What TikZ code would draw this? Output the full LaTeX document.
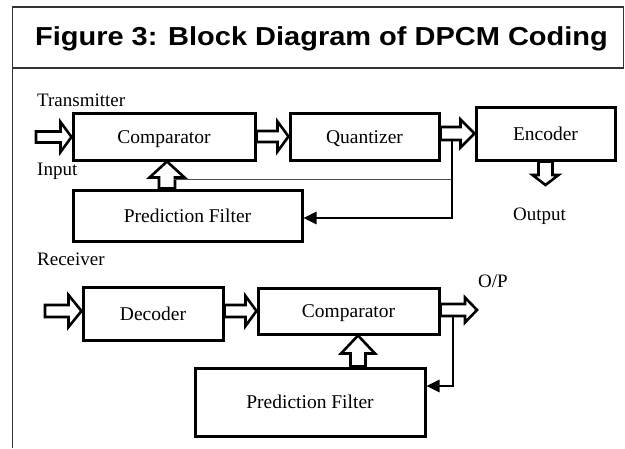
\documentclass[tikz,border=0pt]{standalone}
\usepackage{fontspec}
\setmainfont{Liberation Serif}
\newfontfamily\headfont{Liberation Sans}
\usetikzlibrary{calc,arrows.meta}

% hollow block arrow: tail, tip, shaft half-width, head half-width, head length
\newcommand\hollowarrow[5]{%
  \path ($(#2)!#5!(#1)$) coordinate (ha-base);
  \draw[barrow] ($(#1)!#3!90:(#2)$) -- ($(ha-base)!#3!90:(#2)$)
    -- ($(ha-base)!#4!90:(#2)$) -- (#2) -- ($(ha-base)!#4!-90:(#2)$)
    -- ($(ha-base)!#3!-90:(#2)$) -- ($(#1)!#3!-90:(#2)$) -- cycle;
}

\begin{document}
\begin{tikzpicture}[x=1pt,y=-1pt,
  blk/.style={draw, line width=3pt, inner sep=0pt, text height=13pt, text depth=0pt,
    font=\fontsize{19.5}{22}\selectfont},
  lbl/.style={inner sep=0pt, anchor=base west,
    font=\fontsize{19}{22}\selectfont},
  barrow/.style={draw, line width=2.6pt, fill=white, line join=miter},
  fb/.style={draw, line width=2.6pt, -{Triangle[length=13pt,width=12pt]}},
  thinline/.style={draw, line width=0.9pt, black!70},
  frame/.style={draw, line width=1.6pt, black!80},
]
\useasboundingbox (0,0) rectangle (625,448);

% frame and title bar
\draw[frame] (12.5,448) -- (12.5,7) -- (623.5,7) -- (623.5,68) -- (12.5,68);
\node[inner sep=0pt, anchor=base, font=\headfont\bfseries\fontsize{26}{30}\selectfont]
  (title) at (321.5,45) {\scalebox{1.115}[1]{Figure 3: Block Diagram of DPCM Coding}};

% ---------- transmitter ----------
\node[lbl] (ttx) at (37,106) {Transmitter};
\node[lbl] (tinl) at (37,175) {Input};
\node[lbl] (toutl) at (513,220) {Output};

\node[blk, minimum width=182pt, minimum height=47pt] (tcmp) at (164,136.5) {Comparator};
\node[blk, minimum width=149pt, minimum height=47pt] (tq) at (364.5,136.5) {Quantizer};
\node[blk, minimum width=139pt, minimum height=53pt] (tenc) at (545.5,133.5) {Encoder};
\node[blk, minimum width=229pt, minimum height=51pt] (tpf) at (187.5,215.5) {Prediction Filter};

\coordinate (tin) at (36,137);
\coordinate (tupx) at (167,0);
\coordinate (tsplit) at (452,140);
\coordinate (tthin) at (174,179);
\coordinate (tout) at (545.5,185);

\hollowarrow{tin}{tin -| tcmp.west}{5.5pt}{15pt}{11pt}
\hollowarrow{tcmp.east}{tq.west}{5.5pt}{15pt}{11pt}
\hollowarrow{tq.east |- tenc.west}{tenc.west}{6.5pt}{14pt}{14pt}
\hollowarrow{tupx |- tpf.north}{tupx |- tcmp.south}{8pt}{17.5pt}{16pt}
\hollowarrow{tenc.south}{tout}{7pt}{13pt}{10pt}

\draw[thinline] (tthin) -- (tsplit |- tthin);
\draw[fb] (tsplit) |- ($(tpf.east)+(0,2.5)$);

% ---------- receiver ----------
\node[lbl] (rrx) at (37,265) {Receiver};
\node[lbl] (ropl) at (478,287) {O/P};

\node[blk, minimum width=140pt, minimum height=53pt] (rdec) at (153,313.5) {Decoder};
\node[blk, minimum width=181pt, minimum height=46pt] (rcmp) at (348.5,311) {Comparator};
\node[blk, minimum width=230pt, minimum height=68pt] (rpf) at (310,402) {Prediction Filter};

\coordinate (rin) at (45,311);
\coordinate (rop) at (477,310);
\coordinate (rupx) at (358,0);
\coordinate (rsplit) at (453,316);

\hollowarrow{rin}{rin -| rdec.west}{6pt}{16pt}{13pt}
\hollowarrow{rdec.east |- rcmp.west}{rcmp.west}{6pt}{15pt}{11pt}
\hollowarrow{rcmp.east |- rop}{rop}{6pt}{12.5pt}{12pt}
\hollowarrow{rupx |- rpf.north}{rupx |- rcmp.south}{7.5pt}{17pt}{18pt}

\draw[fb] (rsplit) |- ($(rpf.east)+(0,-16)$);
\end{tikzpicture}
\end{document}
